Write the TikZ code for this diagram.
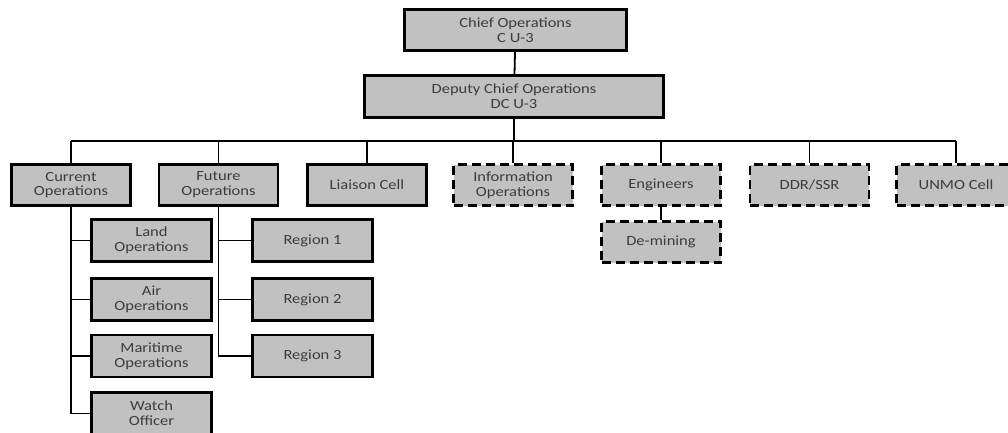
\documentclass[tikz,border=0pt]{standalone}
\usepackage{fontspec}
\setmainfont{Carlito}[FakeStretch=1.18]
\definecolor{boxgray}{RGB}{193,193,193}
\definecolor{textgray}{RGB}{60,60,60}
\begin{document}
\begin{tikzpicture}[x=1pt,y=-1pt,
  box/.style={draw=black, line width=2.6pt, fill=boxgray, text=textgray,
    align=center, font=\fontsize{14}{14.8}\selectfont, inner sep=0pt,
    minimum width=119pt, minimum height=41pt},
  dbox/.style={box, dash pattern=on 9pt off 5pt},
  conn/.style={draw=black, line width=1.8pt}]
\useasboundingbox (0,0) rectangle (1008,432);
% top
\node[box, minimum width=222pt, minimum height=41pt] (chief) at (515.5,30) {Chief Operations\\C U-3};
\node[box, minimum width=299pt, minimum height=42pt] (deputy) at (514,96.5) {Deputy Chief Operations\\DC U-3};
% row 1
\node[box]  (cur)  at (71,185)    {Current\\Operations};
\node[box]  (fut)  at (218.5,185) {Future\\Operations};
\node[box]  (lia)  at (367,185)   {Liaison Cell};
\node[dbox] (info) at (513,185)   {Information\\Operations};
\node[dbox] (eng)  at (661,185)   {Engineers};
\node[dbox] (ddr)  at (809.5,185) {DDR/SSR};
\node[dbox] (unmo) at (956,185)   {UNMO Cell};
\node[dbox] (demin) at (661,242)  {De-mining};
% current operations children
\node[box, minimum width=120pt, minimum height=42pt] (land)  at (151.5,240.5) {Land\\Operations};
\node[box, minimum width=120pt, minimum height=42pt] (air)   at (151.5,299.5) {Air\\Operations};
\node[box, minimum width=120pt, minimum height=42pt] (mari)  at (151.5,356)   {Maritime\\Operations};
\node[box, minimum width=120pt, minimum height=42pt] (watch) at (151.5,413.5) {Watch\\Officer};
% future operations children
\node[box, minimum width=120pt, minimum height=42pt] (r1) at (312.5,240.5) {Region 1};
\node[box, minimum width=120pt, minimum height=42pt] (r2) at (312.5,299.5) {Region 2};
\node[box, minimum width=120pt, minimum height=42pt] (r3) at (312.5,356)   {Region 3};
% bus
\coordinate (bus) at (0,141);
% connectors
\draw[conn] (chief) -- (deputy);
\draw[conn] (deputy.south) -- (deputy.south |- bus);
\draw[conn] (cur.north |- bus) -- (unmo.north |- bus);
\foreach \n in {cur,fut,lia,info,eng,ddr,unmo}
  \draw[conn] (\n.north) -- (\n.north |- bus);
\draw[conn] (eng) -- (demin);
\foreach \n in {land,air,mari,watch}
  \draw[conn] (cur.south) |- (\n.west);
\foreach \n in {r1,r2,r3}
  \draw[conn] (fut.south) |- (\n.west);
\end{tikzpicture}
\end{document}
